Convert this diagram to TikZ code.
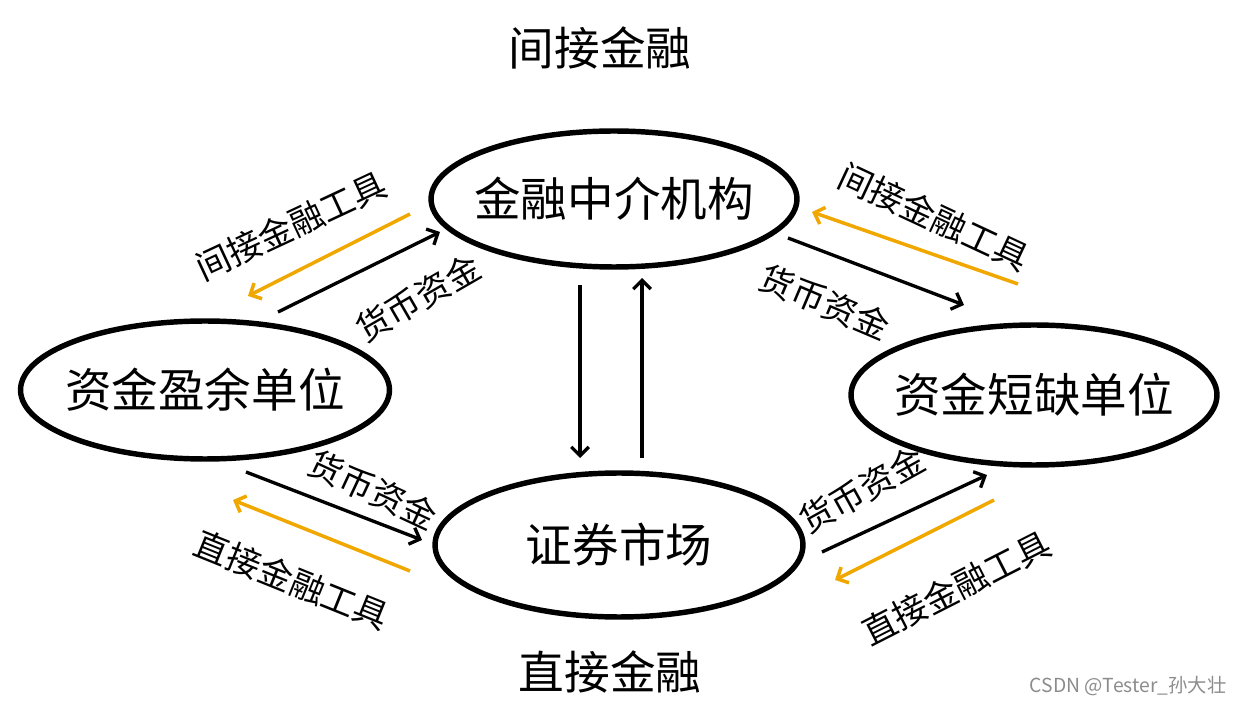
\documentclass[tikz,border=0pt]{standalone}
\usepackage{fontspec}
\newfontfamily\cjk{Noto Sans CJK SC}
\usetikzlibrary{shapes.geometric,arrows.meta}
\definecolor{gold}{RGB}{240,168,0}
\begin{document}
\begin{tikzpicture}[x=0.02cm, y=0.02cm]
  \tikzstyle{unit}=[ellipse, draw, line width=3.1pt, inner xsep=-2cm, inner ysep=0pt, font=\cjk\fontsize{26.5}{30}\selectfont]
  \tikzstyle{title}=[inner sep=0pt, font=\cjk\fontsize{26}{30}\selectfont]
  \tikzstyle{tag}=[inner sep=0pt, font=\cjk\fontsize{19.5}{22}\selectfont]
  \tikzstyle{money}=[-{Straight Barb[length=5pt,width=10pt]}, line width=1.9pt]
  \tikzstyle{claim}=[-{Straight Barb[length=5pt,width=10pt]}, line width=2pt, gold]

  \useasboundingbox (0,0) rectangle (1242,704);

  \node[title] at (600, 656) {间接金融};
  \node[title] at (610, 32)  {直接金融};

  \node[unit, minimum width=7.32cm, minimum height=2.72cm] (inter)   at (614, 505) {金融中介机构};
  \node[unit, minimum width=7.38cm, minimum height=2.76cm] (surplus) at (205, 314) {资金盈余单位};
  \node[unit, minimum width=7.32cm, minimum height=2.8cm]  (deficit) at (1034, 309) {资金短缺单位};
  \node[unit, minimum width=7.36cm, minimum height=2.88cm] (market)  at (619, 159) {证券市场};

  \node[tag, rotate=25]  at (291, 478) {间接金融工具};
  \node[tag, rotate=30]  at (418, 406) {货币资金};
  \node[tag, rotate=-25] at (934, 487) {间接金融工具};
  \node[tag, rotate=-23] at (825, 402) {货币资金};
  \node[tag, rotate=-25] at (373, 214) {货币资金};
  \node[tag, rotate=-22] at (292, 124) {直接金融工具};
  \node[tag, rotate=29]  at (862, 214) {货币资金};
  \node[tag, rotate=27]  at (956, 116) {直接金融工具};

  \coordinate (s1) at (278, 392);  \coordinate (i1) at (440, 472);
  \coordinate (i2) at (410, 490);  \coordinate (s2) at (248, 408);
  \coordinate (i3) at (788, 466);  \coordinate (d1) at (964, 399);
  \coordinate (d2) at (1018, 420); \coordinate (i4) at (812, 492);
  \coordinate (s3) at (246, 232);  \coordinate (m1) at (422, 164);
  \coordinate (m2) at (410, 133);  \coordinate (s4) at (233, 204);
  \coordinate (m3) at (822, 152);  \coordinate (d3) at (987, 229);
  \coordinate (d4) at (994, 204);  \coordinate (m4) at (835, 124);
  \coordinate (i5) at (580, 419);  \coordinate (m5) at (580, 246);
  \coordinate (m6) at (642, 246);  \coordinate (i6) at (642, 426);

  \path[money] (s1) edge (i1);
  \path[claim] (i2) edge (s2);
  \path[money] (i3) edge (d1);
  \path[claim] (d2) edge (i4);
  \path[money] (s3) edge (m1);
  \path[claim] (m2) edge (s4);
  \path[money] (m3) edge (d3);
  \path[claim] (d4) edge (m4);
  \path[money] (i5) edge (m5);
  \path[money] (m6) edge (i6);

  \node[inner sep=0pt, text=black!45, font=\cjk\fontsize{11}{13}\selectfont] at (1128, 18) {CSDN @Tester\_孙大壮};
\end{tikzpicture}
\end{document}
